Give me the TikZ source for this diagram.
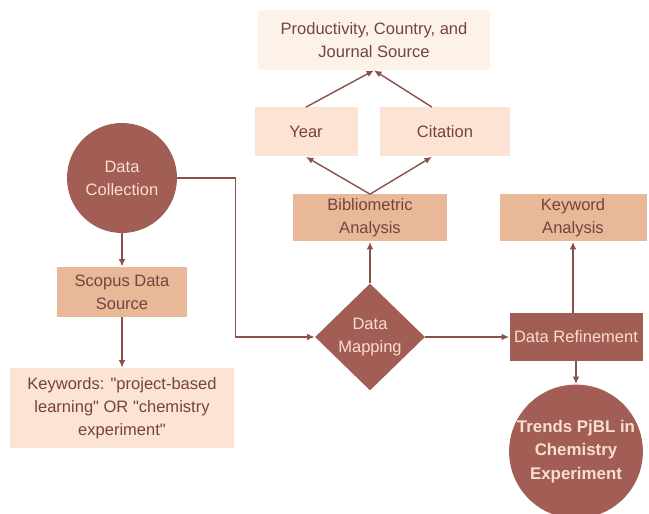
\documentclass[tikz,border=0pt]{standalone}
\usepackage{fontspec}
\setmainfont{Liberation Sans}
\usetikzlibrary{arrows.meta, positioning, shapes.geometric}

\definecolor{brickfill}{HTML}{A25D55}
\definecolor{tanfill}{HTML}{E8B898}
\definecolor{peachfill}{HTML}{FCE3D4}
\definecolor{palefill}{HTML}{FDF2EA}
\definecolor{linebrown}{HTML}{8A5149}
\definecolor{textbrown}{HTML}{74443D}
\definecolor{textlight}{HTML}{F9DECF}

\begin{document}
\begin{tikzpicture}[
    box/.style={
        rectangle,
        fill=#1,
        align=center,
        inner sep=2pt,
        text=textbrown,
        font=\fontsize{9.4}{13}\selectfont
    },
    darkbox/.style={
        box=brickfill,
        text=textlight
    },
    bubble/.style={
        circle,
        fill=brickfill,
        align=center,
        inner sep=0pt,
        text=textlight,
        font=\fontsize{9.4}{13}\selectfont
    },
    arrow/.style={-{Latex[length=1.5mm, width=1.3mm]}, line width=0.8pt, draw=linebrown}
]
\useasboundingbox (0,0) rectangle (12.98,10.28);

% left column
\node[bubble, minimum size=2.2cm] (collect) at (2.44,6.72) {Data\\Collection};
\node[box=tanfill, minimum width=2.6cm, minimum height=1cm] (scopus) at (2.44,4.44) {Scopus Data\\Source};
\node[box=peachfill, minimum width=4.48cm, minimum height=1.6cm] (keywords) at (2.44,2.12)
    {Keywords: \textquotedbl project-based\\learning\textquotedbl{} OR \textquotedbl chemistry\\experiment\textquotedbl};

% middle column
\node[diamond, fill=brickfill, text=textlight, align=center, inner sep=0pt,
      minimum width=2.2cm, minimum height=2.14cm, font=\fontsize{9.4}{13}\selectfont]
      (mapping) at (7.4,3.54) {Data\\Mapping};
\node[box=tanfill, minimum width=3.08cm, minimum height=0.94cm] (biblio) at (7.4,5.92) {Bibliometric\\Analysis};
\node[box=peachfill, minimum width=2.06cm, minimum height=0.98cm] (year) at (6.12,7.64) {Year};
\node[box=peachfill, minimum width=2.6cm, minimum height=0.98cm] (citation) at (8.9,7.64) {Citation};
\node[box=palefill, minimum width=4.64cm, minimum height=1.2cm] (product) at (7.48,9.48)
    {Productivity, Country, and\\Journal Source};

% right column
\node[darkbox, minimum width=2.66cm, minimum height=0.96cm] (refine) at (11.52,3.54) {Data Refinement};
\node[box=tanfill, minimum width=2.94cm, minimum height=0.94cm] (keyan) at (11.46,5.92) {Keyword\\Analysis};
\node[bubble, minimum size=2.5cm, font=\fontsize{9.6}{13.5}\selectfont\bfseries] (trends) at (11.52,1.25)
    {Trends PjBL in\\Chemistry\\Experiment};

\draw[arrow] (collect) -- (scopus);
\draw[arrow] (scopus) -- (keywords);
\draw[arrow] (collect.east) -- ++(1.16,0) |- (mapping.west);
\draw[arrow] (mapping) -- (biblio);
\draw[arrow] (mapping) -- (refine);
\draw[arrow] (biblio.north) -- (year.south);
\draw[arrow] (biblio.north) -- ([xshift=-0.26cm]citation.south);
\draw[arrow] (year.north) -- (product.south);
\draw[arrow] ([xshift=-0.26cm]citation.north) -- (product.south);
\draw[arrow] (refine.north -| keyan) -- (keyan);
\draw[arrow] (refine) -- (trends);

\end{tikzpicture}
\end{document}
